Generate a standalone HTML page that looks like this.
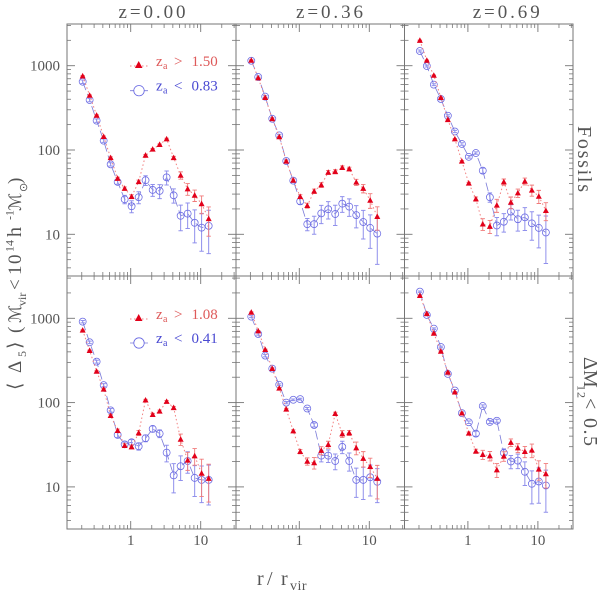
<!DOCTYPE html>
<html lang="en">
<head>
<meta charset="utf-8">
<title>Delta5 profiles</title>
<style>
html,body{margin:0;padding:0;background:#fff;}
body{width:600px;height:592px;overflow:hidden;}
svg{display:block;filter:blur(0.3px);}
text{font-family:"Liberation Serif","DejaVu Serif",serif;fill:#555;}
</style>
</head>
<body>
<svg id="chart" xmlns="http://www.w3.org/2000/svg" width="600" height="592" viewBox="0 0 600 592">
  <rect x="0" y="0" width="600" height="592" fill="#fff"/>
  <g id="panels"></g>

  <text x="118.5" y="18" font-size="19" textLength="67" lengthAdjust="spacing">z=0.00</text>
  <text x="296" y="18" font-size="19" textLength="67" lengthAdjust="spacing">z=0.36</text>
  <text x="472.7" y="18" font-size="19" textLength="67" lengthAdjust="spacing">z=0.69</text>

  <text transform="translate(578,126) rotate(90)" font-size="20" textLength="66" lengthAdjust="spacing">Fossils</text>
  <text transform="translate(584,357) rotate(90)" font-size="20"><tspan x="0" y="0">ΔM</tspan><tspan x="28" y="6.5" font-size="12" letter-spacing="1">12</tspan><tspan x="41" y="0">&lt;</tspan><tspan x="61" y="0" letter-spacing="1.5">0.5</tspan></text>

  <text font-size="20"><tspan x="257" y="585">r</tspan><tspan x="267" y="585">/</tspan><tspan x="281" y="585">r</tspan><tspan x="290" y="590" font-size="14" letter-spacing="0.5">vir</tspan></text>

  <text transform="rotate(-90)" font-size="19"><tspan x="-390" y="21">⟨</tspan><tspan x="-373" y="21">Δ</tspan><tspan x="-357" y="26" font-size="12">5</tspan><tspan x="-349" y="21">⟩</tspan><tspan x="-333" y="21">(</tspan><tspan x="-323" y="21" font-family="DejaVu Serif, DejaVu Sans, serif" font-size="17">ℳ</tspan><tspan x="-306" y="26" font-size="12">vir</tspan><tspan x="-290" y="21">&lt;</tspan><tspan x="-275" y="21" letter-spacing="1.5">10</tspan><tspan x="-252" y="13.5" font-size="12">14</tspan><tspan x="-237" y="21" font-size="20">h</tspan><tspan x="-220" y="13.5" font-size="12">-1</tspan><tspan x="-211" y="21" font-family="DejaVu Serif, DejaVu Sans, serif" font-size="17">ℳ</tspan><tspan x="-192" y="27" font-size="11" font-family="DejaVu Sans, sans-serif">⊙</tspan><tspan x="-184" y="21">)</tspan></text>
</svg>
<script>
var radii = [0.206,0.259,0.326,0.411,0.517,0.651,0.82,1.03,1.3,1.63,2.06,2.59,3.26,4.11,5.17,6.51,8.2,10.3,13];

var f000Old = [754,445,258,144,81,46,35,28,42,86.5,102,116,135,81,50,34.5,29,23,15.3];
var f000OldErr = [10,6,4,3,2,1.5,1.5,1.5,2,2,2,2,3,3,5,5.5,4.5,5.5,5.8];
var f000Young = [646,392,223,129,67.6,41.8,26,21.5,27.5,43.7,33.6,32.7,47.4,29,16.6,17.6,13.7,12,12.6];
var f000YoungErr = [30,18,10,6,3,2.5,3,3.5,4.5,5.8,5.4,6.2,9,5.6,5.6,5.9,5.8,5.7,6.7];

var f036Old = [1157,714,418,235,143,73.5,43.7,28,21.9,32.4,38.5,54.3,55.3,61.8,59.6,41.4,35,25.3,16.2];
var f036OldErr = [15,9,6,4,3,2,1.5,1.5,1.5,2,2.5,3,3,3,3,3.5,4,5,5];
var f036Young = [1146,735,429,235,149,74,43.3,24.6,13.2,13.2,17.7,19.8,17.4,23.1,21.3,16.9,14,11.9,10.2];
var f036YoungErr = [30,20,12,7,4,2.5,2,2,2.2,3.2,4.3,4.6,4.7,4.9,5,5,5.2,5.1,5.8];

var f069Old = [1995,1157,768,418,229,135,73.5,40.3,26.2,13.2,12.4,22.1,41.8,23.9,30.9,42.5,33.3,28.2,19.1];
var f069OldErr = [20,12,8,5,3,2,1.5,1,1.5,2.1,2.2,3.9,3.5,3.8,3.5,4,5,5,4.6];
var f069Young = [1493,991,596,403,255,166,118,83,92,56.9,27.5,12.7,14.1,18.6,15.1,15.9,13.5,11.9,10.5];
var f069YoungErr = [40,25,15,10,7,5,4,3,3,4,3.5,3.1,3.5,3.8,4.2,4.8,5,5,6];

var m000Old = [721,414,235,144,70,46.6,30.9,29.8,43.7,107,72,79,103,87,36.7,20.7,23.3,14.5,12.6];
var m000OldErr = [10,6,4,3,2,2,1.5,1.5,3,2.5,2.5,2.5,3,3,5.7,5,5.2,6.8,6];
var m000Young = [912,519,306,161,81,41.4,32,33.9,30.3,37.8,48.8,42.9,25.5,13.7,17.6,20.3,12.8,12.1,12.1];
var m000YoungErr = [30,18,12,7,4,3,2,2.5,3,3.5,4,4.5,5.7,5.2,5.7,5.8,5.1,5.6,6];

var m036Old = [1178,707,425,253,148,83.4,46,26.2,20.1,19.3,27,31.8,74,42.5,43.7,29,21.7,17.4,12.6];
var m036OldErr = [15,9,6,4,3,2,1.5,1.5,2,3,3,3,3,4,3,5,4.5,4.5,5.4];
var m036Young = [1047,652,361,253,163,100,108,110,85,54.3,23.5,23.5,20.3,29.8,20.3,12.1,12.1,13,11.5];
var m036YoungErr = [30,20,12,7,4,3,2.5,2.5,2.5,3,3.7,4,4.3,5,4.9,4.6,5,5.2,5];

var m069Old = [1858,1135,664,406,229,133,75,43.3,26.5,24.2,23.3,15.9,23.1,33.6,29,26.2,27.2,16.2,14.3];
var m069OldErr = [20,12,8,5,3,2,1.5,1.5,1.5,3,3,3,3,3.5,3.5,4,5,4.2,4.6];
var m069Young = [2070,1096,754,457,219,139,75,58.5,42.9,91,59,61,25.3,20,20.5,15.1,10.9,11.6,10.4];
var m069YoungErr = [40,25,15,10,6,4,2.5,2,3,3,2.5,2.5,3,3.6,4,4.7,4.6,5.2,5.4];

var panelOld = [f000Old,f036Old,f069Old,m000Old,m036Old,m069Old];
var panelOldErr = [f000OldErr,f036OldErr,f069OldErr,m000OldErr,m036OldErr,m069OldErr];
var panelYoung = [f000Young,f036Young,f069Young,m000Young,m036Young,m069Young];
var panelYoungErr = [f000YoungErr,f036YoungErr,f069YoungErr,m000YoungErr,m036YoungErr,m069YoungErr];

var xMajorTicks = [1,10];
var xMinorTicks = [0.2,0.3,0.4,0.5,0.6,0.7,0.8,0.9,2,3,4,5,6,7,8,9,20,30];
var yMajorTicks = [10,100,1000];
var yMinorTicks = [4,5,6,7,8,9,20,30,40,50,60,70,80,90,200,300,400,500,600,700,800,900,2000,3000];
var xTickLabels = ["1","10"];
var yTickLabels = ["10","100","1000"];
var legendOldLabels = ["1.50","1.08"];
var legendYoungLabels = ["0.83","0.41"];

var SVGNS = 'http://www.w3.org/2000/svg';
var root = document.getElementById('panels');
var AXIS = '#757575', RED = '#e2001a', BLUE = '#6666e2';
var colEdges = [67,236,404.5,573];
var rowEdges = [24,276,529];
var xOne = [130.7,299.3,467.9];
var yThousand = [65.7,318.3];

function xScale(r,col){ return xOne[col] + 70*Math.log10(r); }
function yScale(v,row){ return yThousand[row] - 84.3*(Math.log10(v)-3); }
function make(tag,attrs,parent){
  var e = document.createElementNS(SVGNS,tag);
  for (var k in attrs) e.setAttribute(k,attrs[k]);
  parent.appendChild(e);
  return e;
}
function seg(x1,y1,x2,y2,stroke,w,parent){
  return make('line',{x1:x1,y1:y1,x2:x2,y2:y2,stroke:stroke,'stroke-width':w},parent);
}
function triPoints(x,y,s){
  return (x-s)+','+(y+s*0.8)+' '+(x+s)+','+(y+s*0.8)+' '+x+','+(y-s*1.05);
}

function drawAxes(col,row,g){
  var L = colEdges[col], R = colEdges[col+1], T = rowEdges[row], B = rowEdges[row+1];
  var frame = make('rect',{x:L,y:T,width:R-L,height:B-T,fill:'none',stroke:AXIS,'stroke-width':1},g);
  
  
  var ticks = make('g',{},g);
  
  
  xMajorTicks.forEach(function(t){
    var x = xScale(t,col);
    seg(x,T,x,T+8,AXIS,0.9,ticks);
    seg(x,B,x,B-8,AXIS,0.9,ticks);
  });
  xMinorTicks.forEach(function(t){
    var x = xScale(t,col);
    if (x<=L || x>=R) return;
    seg(x,T,x,T+4,AXIS,0.8,ticks);
    seg(x,B,x,B-4,AXIS,0.8,ticks);
  });
  yMajorTicks.forEach(function(t){
    var y = yScale(t,row);
    seg(L,y,L+8,y,AXIS,0.9,ticks);
    seg(R,y,R-8,y,AXIS,0.9,ticks);
  });
  yMinorTicks.forEach(function(t){
    var y = yScale(t,row);
    if (y<=T || y>=B) return;
    seg(L,y,L+4,y,AXIS,0.8,ticks);
    seg(R,y,R-4,y,AXIS,0.8,ticks);
  });
  if (col===0){
    yMajorTicks.forEach(function(t,i){
      var lab = make('text',{x:60,y:yScale(t,row)+5,'text-anchor':'end','font-size':15},g);
      
      
      lab.textContent = yTickLabels[i];
    });
  }
  if (row===1){
    xMajorTicks.forEach(function(t,i){
      var lab = make('text',{x:xScale(t,col),y:545,'text-anchor':'middle','font-size':15},g);
      
      
      lab.textContent = xTickLabels[i];
    });
  }
}

function drawSeries(col,row,vals,errs,kind,g){
  var isOld = kind==='old';
  var s = make('g',{},g);
  
  
  var d = '';
  vals.forEach(function(v,i){
    d += (i?'L':'M')+xScale(radii[i],col).toFixed(2)+' '+yScale(v,row).toFixed(2);
  });
  var line = make('path',{d:d,fill:'none',stroke:isOld?'#f28080':'#7a7ad8','stroke-width':isOld?1:0.8,'stroke-dasharray':isOld?'1.5 2.5':'9 4'},s);
  
  
  vals.forEach(function(v,i){
    var x = xScale(radii[i],col), y = yScale(v,row);
    var hi = yScale(v+errs[i],row), lo = yScale(Math.max(v-errs[i],v*0.2),row);
    var c = isOld?'#f07a7a':'#9090ec';
    var bar = make('path',{d:'M'+x+' '+hi+'L'+x+' '+lo+'M'+(x-2.2)+' '+hi+'L'+(x+2.2)+' '+hi+'M'+(x-2.2)+' '+lo+'L'+(x+2.2)+' '+lo,fill:'none',stroke:c,'stroke-width':isOld?0.9:1},s);
    
    
    if (isOld){
      var tri = make('polygon',{points:triPoints(x,y,3),fill:RED},s);
      
      
    } else {
      var circ = make('circle',{cx:x,cy:y,r:3.5,fill:'none',stroke:BLUE,'stroke-width':0.75},s);
      
      
    }
  });
}

function legendText(x,y,rel,value,color,g){
  var t = make('text',{x:x,y:y,'font-size':15,style:'fill:'+color},g);
  
  
  var a = make('tspan',{x:x,y:y},t); a.textContent='z';
  var b = make('tspan',{x:x+7,y:y+3,'font-size':10},t); b.textContent='a';
  var c = make('tspan',{x:x+18,y:y},t); c.textContent=rel;
  var e = make('tspan',{x:x+35.5,y:y},t); e.textContent=value;
}

function drawLegend(row,g){
  var yA = row===0?65:318, yB = row===0?90.7:343;
  var a = make('g',{},g);
  
  
  make('line',{x1:130,y1:yA+1,x2:148,y2:yA+1,stroke:'#f28080','stroke-width':1,'stroke-dasharray':'1.5 2.5'},a);
  make('polygon',{points:triPoints(138.7,yA,3.8),fill:RED},a);
  legendText(156,yA+1,'>',legendOldLabels[row],'#de5a5a',a);
  var b = make('g',{},g);
  
  
  make('line',{x1:130,y1:yB,x2:148,y2:yB,stroke:'#7a7ad8','stroke-width':0.8},b);
  make('circle',{cx:139,cy:yB,r:5.2,fill:'#fff',stroke:BLUE,'stroke-width':0.8},b);
  legendText(156,yB,'<',legendYoungLabels[row],'#4a4ad2',b);
}

for (var row=0; row<2; row++){
  for (var col=0; col<3; col++){
    var idx = row*3+col;
    var g = make('g',{},root);
    
    
    drawAxes(col,row,g);
    drawSeries(col,row,panelYoung[idx],panelYoungErr[idx],'young',g);
    drawSeries(col,row,panelOld[idx],panelOldErr[idx],'old',g);
    if (col===0) drawLegend(row,g);
  }
}
</script>
</body>
</html>
